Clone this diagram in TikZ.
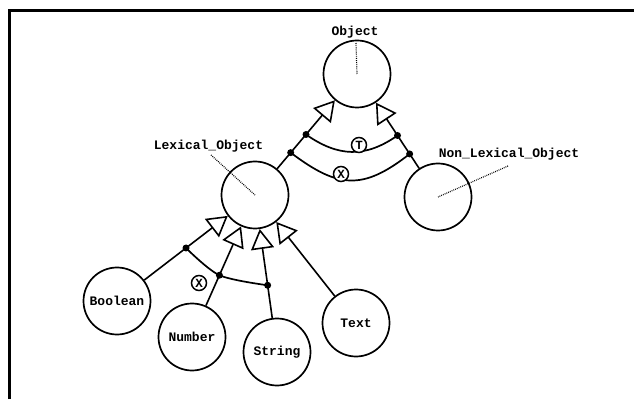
\documentclass[tikz,border=0pt]{standalone}
\usepackage{fontspec}
\newfontfamily\diagmono{Liberation Mono}
\newcommand\lblfont{\diagmono\bfseries\fontsize{13}{13}\selectfont}
\newcommand\markfont{\diagmono\bfseries\fontsize{12.5}{12.5}\selectfont}
\usetikzlibrary{arrows.meta,calc}

\tikzset{
  cls/.style={circle, draw, line width=1.7pt, minimum size=67pt, inner sep=0pt, font=\lblfont},
  lbl/.style={inner sep=0pt, font=\lblfont},
  ptr/.style={line width=1.2pt, dash pattern=on 0.8pt off 1.1pt},
  isa/.style={line width=1.6pt, -{Triangle[open, length=20pt, width=23pt]}},
  joint/.style={circle, fill, inner sep=0pt, minimum size=7pt},
  band/.style={line width=1.7pt},
  marker/.style={circle, draw, fill=white, line width=1.5pt, minimum size=15pt, inner sep=0pt, font=\markfont},
  frame/.style={line width=3pt}
}

\begin{document}
\begin{tikzpicture}[x=1pt,y=1pt]
\useasboundingbox (0,0) rectangle (634,399);

% page frame (top and left rules)
\draw[frame] (9,0) -- (9,388.5) -- (634,388.5);

% classes
\node[cls] (obj)  at (357,325) {};
\node[cls] (lex)  at (255,204) {};
\node[cls] (non)  at (438,202) {};
\node[cls] (bool) at (117,98)  {Boolean};
\node[cls] (num)  at (192,62)  {Number};
\node[cls] (str)  at (277,47)  {String};
\node[cls] (txt)  at (356,76)  {Text};

% class names outside the circles, with dotted pointers
\node[lbl, anchor=base] (objlbl) at (355,363) {Object};
\node[lbl, anchor=base] (lexlbl) at (208.5,249) {Lexical\_Object};
\node[lbl, anchor=base] (nonlbl) at (509,241) {Non\_Lexical\_Object};
\coordinate (objtip) at (356,356);
\coordinate (lextip) at (211,244);
\coordinate (nontip) at (508,233);
\draw[ptr] (objtip) -- (obj.center);
\draw[ptr] (lextip) -- (lex.center);
\draw[ptr] (nontip) -- (non.center);

% generalisation links
\draw[isa] (lex)  -- (obj);
\draw[isa] (non)  -- (obj);
\draw[isa] (bool) -- (lex);
\draw[isa] (num)  -- (lex);
\draw[isa] (str)  -- (lex);
\draw[isa] (txt)  -- (lex);

% junction points on the links
\node[joint] (tl) at ($(obj)!0.5!(lex)$) {};
\node[joint] (tr) at ($(obj)!0.5!(non)$) {};
\node[joint] (xl) at ($(obj)!0.65!(lex)$) {};
\node[joint] (xr) at ($(obj)!0.65!(non)$) {};
\node[joint] (jb) at ($(lex)!0.5!(bool)$) {};
\node[joint] (jn) at ($(lex)!0.565!(num)$) {};
\node[joint] (js) at ($(lex)!0.575!(str)$) {};

% constraint arcs
\draw[band] (tl.center) to[out=-35, in=-145, looseness=1.1] (tr.center);
\draw[band] (xl.center) to[out=-37, in=-142, looseness=1.28] (xr.center);
\draw[band] plot[smooth] coordinates {(jb.center) (jn.center) (js.center)};

% constraint markers
\node[marker] (mt) at (359,254) {T};
\node[marker] (mx) at (341,225) {X};
\node[marker] (mb) at (199,116) {X};
\end{tikzpicture}
\end{document}
